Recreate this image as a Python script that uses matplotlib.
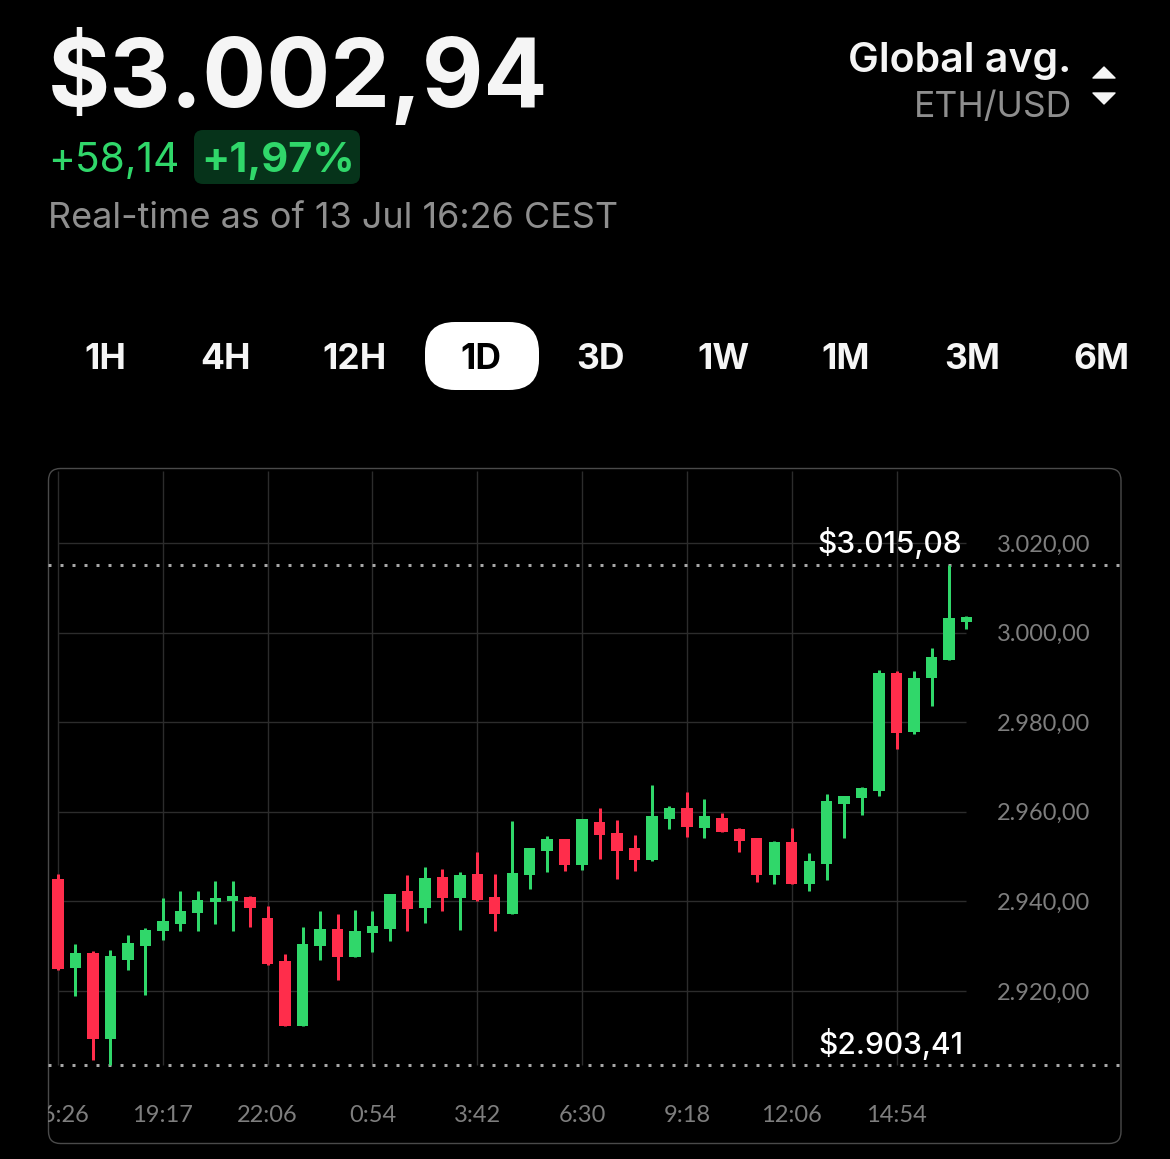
import matplotlib
matplotlib.use("Agg")
import matplotlib.pyplot as plt
from matplotlib.patches import FancyBboxPatch, Polygon

W, H = 1170, 1159

# candles
opens = [2944.9, 2925.2, 2928.4, 2909.3, 2926.9, 2930.0, 2933.3, 2934.9, 2937.4, 2939.9,
         2940.0, 2941.0, 2936.3, 2926.7, 2912.2, 2930.0, 2933.8, 2927.5, 2932.9, 2933.8,
         2942.2, 2938.5, 2945.4, 2940.7, 2946.0, 2941.0, 2937.2, 2945.9, 2951.3, 2953.8,
         2948.1, 2957.6, 2955.2, 2951.8, 2949.3, 2958.3, 2960.8, 2956.4, 2958.5, 2956.1,
         2954.1, 2945.9, 2953.2, 2943.9, 2948.3, 2961.8, 2963.0, 2964.6, 2990.9, 2977.8,
         2989.8, 2993.9, 3002.3]
closes = [2924.9, 2928.4, 2909.2, 2927.9, 2930.6, 2933.7, 2935.5, 2937.8, 2940.2, 2940.7,
          2941.1, 2938.5, 2925.9, 2912.2, 2930.5, 2933.8, 2927.6, 2933.4, 2934.4, 2941.6,
          2938.3, 2945.2, 2940.7, 2945.9, 2940.4, 2937.1, 2946.4, 2952.0, 2953.9, 2948.1,
          2958.3, 2954.7, 2951.2, 2949.3, 2959.0, 2960.8, 2956.5, 2959.0, 2955.5, 2953.5,
          2945.9, 2953.2, 2943.9, 2949.0, 2962.4, 2963.6, 2965.3, 2991.0, 2977.6, 2989.9,
          2994.5, 3003.2, 3003.4]
highs = [2946.0, 2930.5, 2928.8, 2929.2, 2932.4, 2934.0, 2940.7, 2942.3, 2942.2, 2944.5,
         2944.5, 2941.1, 2939.0, 2928.2, 2934.2, 2937.8, 2937.2, 2938.1, 2937.8, 2941.6,
         2945.9, 2947.6, 2947.1, 2946.6, 2950.9, 2946.2, 2958.0, 2952.0, 2954.6, 2953.8,
         2958.3, 2960.8, 2958.2, 2954.8, 2966.0, 2961.2, 2964.4, 2962.8, 2959.6, 2956.3,
         2954.1, 2953.4, 2956.4, 2950.8, 2963.9, 2963.6, 2965.6, 2991.6, 2991.3, 2991.5,
         2996.5, 3015.08, 3003.6]
lows = [2924.7, 2918.9, 2904.6, 2903.41, 2924.7, 2919.1, 2931.3, 2933.4, 2933.4, 2935.0,
        2933.4, 2934.3, 2925.7, 2912.2, 2912.2, 2927.0, 2922.5, 2927.5, 2928.6, 2931.1,
        2933.3, 2935.1, 2937.8, 2933.6, 2940.1, 2933.4, 2937.2, 2942.7, 2946.5, 2946.8,
        2947.0, 2949.4, 2944.9, 2946.8, 2948.9, 2956.2, 2954.4, 2954.1, 2955.5, 2950.9,
        2944.4, 2943.9, 2943.9, 2942.3, 2944.8, 2954.2, 2959.3, 2963.4, 2974.1, 2977.4,
        2983.5, 2993.9, 3000.8]

price_ticks = [3020, 3000, 2980, 2960, 2940, 2920]
price_labels = ["3.020,00", "3.000,00", "2.980,00", "2.960,00", "2.940,00", "2.920,00"]
time_pos = [0, 6, 12, 18, 24, 30, 36, 42, 48]
time_labels = ["16:26", "19:17", "22:06", "0:54", "3:42", "6:30", "9:18", "12:06", "14:54"]
max_price = 3015.08
min_price = 2903.41
max_label = "$3.015,08"
min_label = "$2.903,41"
periods = ["1H", "4H", "12H", "1D", "3D", "1W", "1M", "3M", "6M"]
period_x = [105, 225, 355, 481, 600, 723, 846, 972, 1101]

GREEN = "#30D76A"
RED = "#FF2D4B"
GRID = "#2C2C2C"
GREY = "#8E8E8E"
px = 72 / 100  # one pixel in points

fig = plt.figure(figsize=(W / 100, H / 100), dpi=100, facecolor="black")

# page level layer in pixel coords
ui = fig.add_axes([0, 0, 1, 1])
ui.set_xlim(0, W)
ui.set_ylim(H, 0)
ui.axis("off")

ui.text(48, 107, "$3.002,94", color="#F5F5F5", fontsize=68.3, family="Inter", weight="bold")
ui.text(48, 172, "+58,14", color=GREEN, fontsize=29.3, family="Inter")
ui.add_patch(FancyBboxPatch((200, 136), 154, 42, boxstyle="round,pad=6,rounding_size=9",
                            fc="#06331A", ec="none"))
ui.text(201, 172, "+1,97%", color=GREEN, fontsize=30, family="Inter", weight="bold")
ui.text(48, 228, "Real-time as of 13 Jul 16:26 CEST", color=GREY, fontsize=25.9, family="Inter")

ui.text(1071, 72, "Global avg.", color="#F5F5F5", fontsize=29.6, family="Inter", weight="semibold", ha="right")
ui.text(1072, 117, "ETH/USD", color=GREY, fontsize=25.6, family="Inter", ha="right")
ui.add_patch(Polygon([(1093, 78), (1104, 67), (1115, 78)], fc="#F5F5F5", ec="#F5F5F5", lw=1, joinstyle="round"))
ui.add_patch(Polygon([(1093, 93), (1115, 93), (1104, 104)], fc="#F5F5F5", ec="#F5F5F5", lw=1, joinstyle="round"))

ui.add_patch(FancyBboxPatch((425, 322), 114, 68, boxstyle="round,pad=0,rounding_size=30",
                            fc="white", ec="none"))
for name, x in zip(periods, period_x):
    ui.text(x, 369, name, color="black" if name == "1D" else "#F5F5F5", fontsize=25.5,
            family="Inter", weight="bold", ha="center")

ui.add_patch(FancyBboxPatch((48.5, 468.5), 1072.5, 675, boxstyle="round,pad=0,rounding_size=12",
                            fc="none", ec="#4A4A4A", lw=1 * px * 1.4))

# chart, axes box = the card
ax = fig.add_axes([48 / W, 1 - 1144 / H, (1121 - 48) / W, (1144 - 468) / H])
ax.patch.set_alpha(0)
ax.axis("off")
step = 17.47   # pixels per candle
ppu = 4.48     # pixels per dollar
ax.set_xlim((48 - 58) / step, (1121 - 58) / step)
ax.set_ylim(3000 - (1144 - 632.5) / ppu, 3000 + (632.5 - 468) / ppu)


def xpx(x):
    return (x - 58) / step


top = 3000 + (632.5 - 471) / ppu
ax.hlines(price_ticks, 0, len(opens) - 1, color=GRID, lw=1.0, zorder=1)
ax.vlines(time_pos, min_price, top, color=GRID, lw=1.0, zorder=1)

for level in (max_price, min_price):
    ax.plot([xpx(48), xpx(1121)], [level, level], color="#A8A8A8", lw=3 * px,
            linestyle=(0, (1, 3)), zorder=2)

colors = [GREEN if c >= o else RED for o, c in zip(opens, closes)]
xs = list(range(len(opens)))
ax.vlines(xs, lows, highs, color=colors, lw=3 * px, capstyle="butt", zorder=3)
ax.bar(xs, [abs(c - o) for o, c in zip(opens, closes)], bottom=[min(o, c) for o, c in zip(opens, closes)],
       width=11.4 / step, color=colors, zorder=4)

for y, lab in zip(price_ticks, price_labels):
    ax.text(xpx(1044), y - 2 / ppu, lab, color="#7E7E7E", fontsize=17, family="Lato", ha="center", va="center")
for x, lab in zip(time_pos, time_labels):
    ax.text(x, 2885.83 + (1144 - 1115.5) / ppu, lab, color="#7E7E7E", fontsize=17, family="Lato",
            ha="center", va="center", clip_on=True)

ax.text(xpx(962), max_price + 2.6, max_label, color="white", fontsize=21.6, family="Inter", weight="medium", ha="right")
ax.text(xpx(963), min_price + 2.6, min_label, color="white", fontsize=21.6, family="Inter", weight="medium", ha="right")

fig.savefig("out.png", dpi=100, facecolor="black")
